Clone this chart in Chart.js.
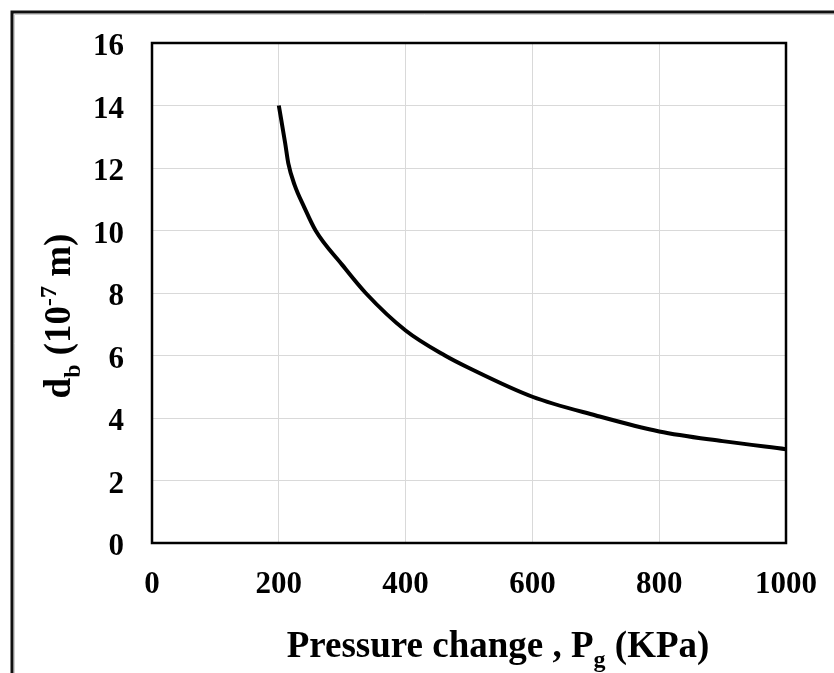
<!DOCTYPE html>
<html>
<head>
<meta charset="utf-8">
<script src="https://cdn.jsdelivr.net/npm/chart.js@4.4.1/dist/chart.umd.min.js"></script>
<style>
html,body{margin:0;padding:0;background:#fff;}
#wrap{position:relative;width:834px;height:673px;}
</style>
</head>
<body>
<div id="wrap"><canvas id="c" width="834" height="673"></canvas></div>
<script>
const pressure = [200, 210, 215, 225, 240, 258, 300, 337, 400, 462, 500, 600, 700, 800, 900, 1000];
const diameter = [14.0, 12.8, 12.15, 11.45, 10.75, 10.0, 8.9, 8.0, 6.8, 6.0, 5.6, 4.68, 4.08, 3.57, 3.26, 3.0];
const xTitle = [["Pressure change , P", 0], ["g", 1], [" (KPa)", 0]];
const yTitle = [["d", 0], ["b", 1], [" (10", 0], ["-7", -1], [" m)", 0]];

const FONT = '"Liberation Serif", "Times New Roman", serif';

function measureRich(ctx, segs, size) {
  let w = 0;
  const parts = segs.map(([t, k]) => {
    const fs = k === 0 ? size : Math.round(size * 0.65);
    ctx.font = 'bold ' + fs + 'px ' + FONT;
    const tw = ctx.measureText(t).width;
    w += tw;
    return {t, k, fs, tw};
  });
  return {w, parts};
}
function renderRich(ctx, segs, size, cx, cy, rot) {
  ctx.save();
  ctx.translate(cx, cy);
  if (rot) ctx.rotate(rot);
  const {w, parts} = measureRich(ctx, segs, size);
  let x = -w / 2;
  ctx.fillStyle = '#000';
  ctx.textBaseline = 'alphabetic';
  ctx.textAlign = 'left';
  for (const p of parts) {
    ctx.font = 'bold ' + p.fs + 'px ' + FONT;
    const dy = p.k === 1 ? size * 0.28 : (p.k === -1 ? -size * 0.38 : 0);
    ctx.fillText(p.t, x, dy);
    x += p.tw;
  }
  ctx.restore();
}

const decor = {
  id: 'decor',
  beforeDraw(chart) {
    const ctx = chart.ctx;
    ctx.save();
    ctx.fillStyle = '#fff';
    ctx.fillRect(0, 0, chart.width, chart.height);
    ctx.restore();
  },
  afterDraw(chart) {
    const ctx = chart.ctx;
    const a = chart.chartArea;
    ctx.save();
    ctx.strokeStyle = '#000';
    ctx.lineWidth = 2.5;
    ctx.strokeRect(a.left, a.top, a.right - a.left, a.bottom - a.top);
    // outer frame (cropped)
    ctx.lineWidth = 1;
    ctx.strokeStyle = '#d0d0d0';
    ctx.beginPath();
    ctx.moveTo(14.5, chart.height);
    ctx.lineTo(14.5, 14.5);
    ctx.lineTo(chart.width, 14.5);
    ctx.stroke();
    ctx.lineWidth = 3;
    ctx.strokeStyle = '#111';
    ctx.beginPath();
    ctx.moveTo(12, chart.height);
    ctx.lineTo(12, 12);
    ctx.lineTo(chart.width, 12);
    ctx.stroke();
    ctx.restore();
    renderRich(ctx, xTitle, 37, 498, 657, 0);
    renderRich(ctx, yTitle, 37, 70, 316, -Math.PI / 2);
  }
};

new Chart(document.getElementById('c'), {
  type: 'line',
  data: {
    datasets: [{
      data: pressure.map((p, i) => ({x: p, y: diameter[i]})),
      borderColor: '#000',
      borderWidth: 4,
      pointRadius: 0,
      cubicInterpolationMode: 'monotone',
      fill: false
    }]
  },
  options: {
    responsive: false,
    animation: false,
    devicePixelRatio: 1,
    layout: {padding: {left: 0, right: 48, top: 43, bottom: 0}},
    plugins: {legend: {display: false}, tooltip: {enabled: false}},
    scales: {
      x: {
        type: 'linear', min: 0, max: 1000,
        afterFit(s) { s.height = 130; s.paddingLeft = 0; s.paddingRight = 0; },
        border: {display: false},
        grid: {color: '#d9d9d9', lineWidth: 1, drawTicks: false},
        ticks: {stepSize: 200, padding: 23, color: '#000', maxRotation: 0,
                callback: v => String(v),
                font: {family: FONT, size: 31, weight: 'bold'}}
      },
      y: {
        type: 'linear', min: 0, max: 16,
        afterFit(s) { s.width = 152; s.paddingTop = 0; s.paddingBottom = 0; },
        border: {display: false},
        grid: {color: '#d9d9d9', lineWidth: 1, drawTicks: false},
        ticks: {stepSize: 2, padding: 28, color: '#000', labelOffset: 4,
                callback: v => String(v),
                font: {family: FONT, size: 31, weight: 'bold'}}
      }
    }
  },
  plugins: [decor]
});
</script>
</body>
</html>
